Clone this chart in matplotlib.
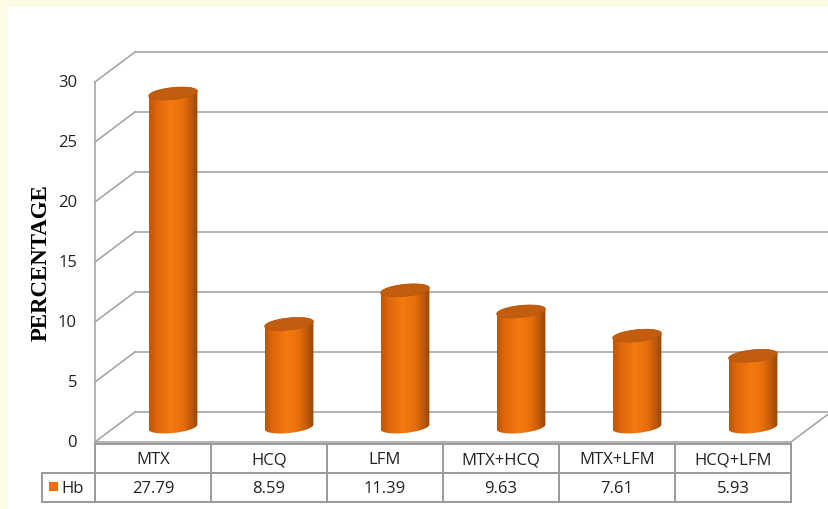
import numpy as np
import matplotlib
matplotlib.use("Agg")
import matplotlib.pyplot as plt
from matplotlib.colors import LinearSegmentedColormap
from matplotlib.patches import Polygon, Rectangle

# ---- data -----------------------------------------------------------------
drugs = ["MTX", "HCQ", "LFM", "MTX+HCQ", "MTX+LFM", "HCQ+LFM"]
hb = [27.79, 8.59, 11.39, 9.63, 7.61, 5.93]
yticks = [0, 5, 10, 15, 20, 25, 30]
series = "Hb"

# ---- geometry (pixels of the 829x510 canvas) --------------------------------
W, H = 829, 510
X0, Y0 = 95, 443          # front-left corner of the floor
COL = 116                 # width of one category / table column
PX_PER = 12               # pixels per percentage point
DX, DY = 40 / COL, 30 / PX_PER   # depth offset of the back wall, data units

GRID = "#a6a6a6"
CREAM = "#fdfae6"
TOP = "#c25d10"
body_cmap = LinearSegmentedColormap.from_list(
    "cyl", [(0, "#bd5607"), (0.15, "#dc670c"), (0.45, "#f5790f"),
            (0.7, "#e66e0d"), (0.9, "#b65408"), (1.0, "#944404")])

plt.rcParams["font.family"] = ["Open Sans", "DejaVu Sans"]
TXT = "#222222"
FS = 12

fig = plt.figure(figsize=(W / 100, H / 100), dpi=100, facecolor=CREAM)
fig.patches.append(Rectangle((8 / W, 0), 1, (H - 8) / H, transform=fig.transFigure,
                             facecolor="white", edgecolor="none", zorder=-10))

ax = fig.add_axes([0, 0, 1, 1])
ax.patch.set_alpha(0)
ax.axis("off")
xlim = (-X0 / COL, (W - X0) / COL)

# walls: side diagonals + back-wall gridlines
for v in yticks:
    ax.plot([0, DX], [v, v + DY], color=GRID, lw=1.2, zorder=1)
    ax.plot([DX, DX + 7], [v + DY, v + DY], color=GRID, lw=1.2, zorder=1)
    ax.text(-0.155, v, str(v), ha="right", va="center", fontsize=FS, color=TXT)
ax.plot([0, 0], [0, yticks[-1]], color=GRID, lw=1.2, zorder=1)
ax.plot([0, len(drugs)], [0, 0], color=GRID, lw=1.2, zorder=1)
ax.plot([len(drugs), len(drugs) + DX], [0, DY], color=GRID, lw=1.2, zorder=1)

ax.text((41 - X0) / COL, 15, "PERCENTAGE", rotation=90, ha="center", va="center",
        fontsize=16.5, fontweight="bold", family="Liberation Serif", color="black")

# cylinders
a, b, s = 0.21, 0.5, 0.2   # half width, ellipse half height, tilt of the caps
t_lo = np.linspace(np.pi, 2 * np.pi, 60)
t_hi = np.linspace(0, np.pi, 60)
t_all = np.linspace(0, 2 * np.pi, 120)
for i, v in enumerate(hb):
    cx = i + 0.5 + DX / 2
    base = DY / 2
    top = base + v
    bx = cx + a * np.cos(t_lo); by = base + b * np.sin(t_lo) + s * np.cos(t_lo)
    tx = cx + a * np.cos(t_hi); ty = top + b * np.sin(t_hi) + s * np.cos(t_hi)
    body = Polygon(np.column_stack([np.r_[bx, tx], np.r_[by, ty]]),
                   facecolor="none", edgecolor="none")
    ax.add_patch(body)
    im = ax.imshow(np.linspace(0, 1, 256)[None, :], cmap=body_cmap, aspect="auto",
                   extent=[cx - a, cx + a, base - b - s - 0.2, top + b + s + 0.2],
                   origin="lower", zorder=3, interpolation="bilinear")
    im.set_clip_path(body)
    cap = Polygon(np.column_stack([cx + a * np.cos(t_all),
                                   top + b * np.sin(t_all) + s * np.cos(t_all)]),
                  facecolor=TOP, edgecolor="#b85608", lw=0.5, zorder=4)
    ax.add_patch(cap)

ax.set_xlim(*xlim)
ax.set_ylim((Y0 - H) / PX_PER, Y0 / PX_PER)

# data table under the floor
tax = fig.add_axes([0, (H - 503) / H, 1, 58 / H])
tax.patch.set_alpha(0)
tax.axis("off")
tax.set_xlim(*xlim)
tax.set_ylim(2, 0)
L = (42 - X0) / COL
n = len(drugs)
TGRID = "#9a9a9a"
tax.plot([0, n], [0, 0], color=TGRID, lw=1.4, clip_on=False)
for yy in (1, 2):
    tax.plot([L, n], [yy, yy], color=TGRID, lw=1.4, clip_on=False)
for k in range(n + 1):
    tax.plot([k, k], [0, 2], color=TGRID, lw=1.4, clip_on=False)
tax.plot([L, L], [1, 2], color=TGRID, lw=1.4, clip_on=False)
for i, (d, v) in enumerate(zip(drugs, hb)):
    tax.text(i + 0.5, 0.52, d, ha="center", va="center", fontsize=FS, color=TXT)
    tax.text(i + 0.5, 1.52, f"{v:.2f}", ha="center", va="center", fontsize=FS, color=TXT)
tax.add_patch(Rectangle(((49 - X0) / COL, 1.31), 9 / COL, 0.31,
                        facecolor="#ec700e", edgecolor="none"))
tax.text((61 - X0) / COL, 1.52, series, ha="left", va="center", fontsize=FS, color=TXT)

fig.savefig("out.png", dpi=100, facecolor=CREAM)
